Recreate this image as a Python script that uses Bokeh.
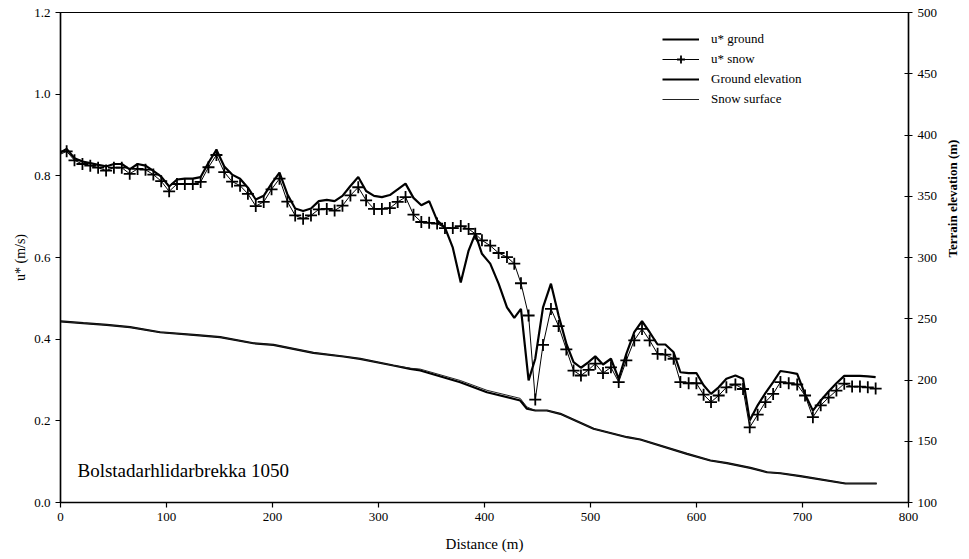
import math
from bokeh.plotting import figure
from bokeh.models import (Range1d, LinearAxis, FixedTicker, NumeralTickFormatter,
                          Legend, LegendItem, ColumnDataSource, CDSView, IndexFilter, Label)
from bokeh.embed import file_html
from bokeh.resources import INLINE

# Distance along the profile (m) of the friction-velocity samples
distance = [0.0, 5.8, 13.2, 20.7, 28.1, 35.5, 43.0, 50.4, 57.8, 65.3, 72.7, 80.2, 87.6, 95.0,
            102.5, 109.9, 117.3, 124.8, 132.2, 139.6, 147.1, 154.5, 161.9, 169.4, 176.8,
            184.2, 191.7, 199.1, 206.6, 214.0, 221.4, 228.9, 236.3, 243.7, 251.2, 258.6,
            266.0, 273.5, 280.9, 288.3, 295.8, 303.2, 310.7, 318.1, 325.5, 333.0, 340.4,
            347.8, 355.3, 362.7, 370.1, 377.6, 385.0, 391.3, 397.6, 405.4, 413.3, 421.2,
            428.1, 434.4, 441.6, 447.9, 455.2, 462.7, 469.9, 477.2, 484.0, 491.0, 498.2,
            504.5, 511.8, 519.3, 526.6, 533.8, 541.3, 548.6, 555.8, 563.3, 570.6, 578.4,
            584.8, 592.6, 599.9, 606.7, 613.7, 620.9, 628.2, 636.7, 643.9, 650.2, 657.7,
            665.0, 672.3, 679.2, 687.0, 695.0, 702.4, 709.8, 717.2, 724.6, 732.0, 739.4,
            746.8, 754.2, 761.6, 769.0]

# Friction velocity u* (m/s) over bare ground
u_ground = [0.857, 0.866, 0.843, 0.835, 0.831, 0.827, 0.823, 0.829, 0.829, 0.816, 0.829, 0.825,
            0.812, 0.798, 0.774, 0.791, 0.793, 0.793, 0.797, 0.832, 0.864, 0.823, 0.803, 0.793,
            0.771, 0.742, 0.751, 0.781, 0.808, 0.755, 0.720, 0.714, 0.720, 0.738, 0.741, 0.738,
            0.751, 0.775, 0.797, 0.763, 0.751, 0.748, 0.753, 0.767, 0.781, 0.746, 0.728, 0.738,
            0.691, 0.673, 0.624, 0.539, 0.617, 0.658, 0.609, 0.585, 0.536, 0.478, 0.452, 0.474,
            0.299, 0.352, 0.478, 0.536, 0.458, 0.389, 0.344, 0.330, 0.344, 0.358, 0.338, 0.352,
            0.303, 0.364, 0.417, 0.444, 0.417, 0.387, 0.387, 0.368, 0.319, 0.317, 0.317, 0.287,
            0.266, 0.282, 0.303, 0.311, 0.303, 0.201, 0.238, 0.268, 0.295, 0.322, 0.319, 0.315,
            0.265, 0.225, 0.250, 0.272, 0.292, 0.310, 0.310, 0.310, 0.309, 0.307]

# Friction velocity u* (m/s) over the snow surface
u_snow = [0.853, 0.860, 0.838, 0.829, 0.825, 0.820, 0.813, 0.820, 0.820, 0.805, 0.817, 0.815,
          0.803, 0.787, 0.762, 0.780, 0.780, 0.780, 0.785, 0.821, 0.851, 0.809, 0.786, 0.776,
          0.756, 0.726, 0.736, 0.767, 0.793, 0.737, 0.703, 0.695, 0.703, 0.718, 0.719, 0.715,
          0.727, 0.752, 0.772, 0.740, 0.719, 0.719, 0.721, 0.736, 0.748, 0.705, 0.687, 0.685,
          0.683, 0.672, 0.672, 0.677, 0.670, 0.658, 0.642, 0.629, 0.611, 0.601, 0.585, 0.537,
          0.458, 0.252, 0.386, 0.474, 0.432, 0.375, 0.323, 0.311, 0.325, 0.340, 0.317, 0.331,
          0.295, 0.348, 0.397, 0.425, 0.397, 0.364, 0.362, 0.352, 0.295, 0.292, 0.292, 0.264,
          0.246, 0.262, 0.282, 0.289, 0.278, 0.184, 0.215, 0.246, 0.266, 0.295, 0.292, 0.289,
          0.262, 0.209, 0.238, 0.257, 0.274, 0.291, 0.284, 0.284, 0.282, 0.279]

# Terrain profile (m a.s.l.)
ground_x = [0.0, 21.5, 43.6, 65.6, 93.9, 128.5, 150.6, 182.0, 200.9, 238.6, 267.0, 282.7,
            314.1, 329.9, 339.4, 377.1, 402.3, 433.7, 440.0, 447.9, 458.9, 471.5, 502.9,
            534.5, 547.0, 591.1, 613.1, 628.8, 650.8, 666.6, 679.2, 698.0, 740.5, 770.0]
ground_elev = [247.8, 246.4, 245.0, 243.1, 239.0, 236.6, 235.0, 230.0, 228.7, 222.2, 219.2,
               217.3, 211.8, 209.1, 207.8, 198.2, 190.0, 183.3, 176.5, 175.1, 175.1, 172.4,
               160.2, 153.3, 151.4, 139.7, 134.3, 132.1, 128.3, 124.7, 123.9, 121.5, 115.5,
               115.5]

snow_x = [0.0, 21.5, 43.6, 65.6, 93.9, 128.5, 150.6, 182.0, 200.9, 238.6, 267.0, 282.7,
          314.1, 329.9, 339.4, 377.1, 402.3, 433.7, 440.0, 447.9, 458.9, 471.5, 502.9,
          534.5, 547.0, 591.1, 613.1, 628.8, 650.8, 666.6, 679.2, 698.0, 740.5, 770.0]
snow_elev = [247.8, 246.4, 245.0, 243.1, 239.0, 236.6, 235.0, 230.0, 228.7, 222.2, 219.2,
             217.3, 211.8, 209.6, 208.9, 199.6, 191.6, 185.0, 178.0, 175.1, 175.1, 172.4,
             160.2, 153.3, 151.4, 139.7, 134.3, 132.1, 128.3, 124.7, 123.9, 121.5, 115.5,
             115.5]

x_ticks = [0, 100, 200, 300, 400, 500, 600, 700, 800]
u_ticks = [0.0, 0.2, 0.4, 0.6, 0.8, 1.0, 1.2]
elev_ticks = [100, 150, 200, 250, 300, 350, 400, 450, 500]

SERIF = "'Liberation Serif', serif"

p = figure(frame_width=848, frame_height=490,
           x_range=Range1d(0, 800), y_range=Range1d(0, 1.2),
           output_backend="svg", toolbar_location=None,
           min_border_left=60, min_border_right=61, min_border_top=12, min_border_bottom=57)
p.extra_y_ranges = {"elev": Range1d(100, 500)}
p.xgrid.visible = False
p.ygrid.visible = False
p.outline_line_color = "black"
p.outline_line_width = 1.2
p.background_fill_color = "white"
p.border_fill_color = "white"

src = ColumnDataSource(dict(x=distance, ug=u_ground, us=u_snow))

r_ground = p.line("x", "ug", source=src, line_color="black", line_width=2.2)
r_snow = p.line("x", "us", source=src, line_color="black", line_width=1.0)
marker_view = CDSView(filter=IndexFilter(list(range(1, len(distance)))))
r_marks = p.scatter("x", "us", source=src, view=marker_view, marker="cross",
                    size=12, line_color="black", line_width=1.8)

r_gel = p.line(ground_x, ground_elev, y_range_name="elev", line_color="black", line_width=2.2)
r_sel = p.line(snow_x, snow_elev, y_range_name="elev", line_color="#222222", line_width=1.0)

# Axes
for ax in p.xaxis:
    ax.ticker = FixedTicker(ticks=x_ticks)
    ax.axis_label = "Distance (m)"
for ax in p.yaxis:
    ax.ticker = FixedTicker(ticks=u_ticks)
    ax.formatter = NumeralTickFormatter(format="0.0")
    ax.axis_label = "u* (m/s)"

right = LinearAxis(y_range_name="elev", ticker=FixedTicker(ticks=elev_ticks))
p.add_layout(right, "right")

for ax in list(p.xaxis) + list(p.yaxis) + [right]:
    ax.axis_line_color = "black"
    ax.axis_line_width = 1.5
    ax.major_tick_line_color = "black"
    ax.major_tick_line_width = 1.2
    ax.major_tick_out = 5
    ax.major_tick_in = 0
    ax.minor_tick_line_color = None
    ax.major_label_text_font = SERIF
    ax.major_label_text_font_size = "13px"
    ax.major_label_text_color = "black"
    ax.axis_label_text_font = SERIF
    ax.axis_label_text_color = "black"
    ax.axis_label_text_font_style = "normal"

for ax in p.xaxis:
    ax.axis_label_text_font_size = "15px"
    ax.axis_label_standoff = 12
for ax in p.yaxis:
    ax.axis_label_text_font_size = "14px"
    ax.axis_label_standoff = 3
right.major_tick_in = 4
right.major_tick_out = 4

# Title of the elevation axis: a bare axis whose single tick label reads bottom to top
title_axis = LinearAxis(y_range_name="elev", ticker=FixedTicker(ticks=[300]),
                        major_label_overrides={300: "Terrain elevation (m)"},
                        major_label_orientation=math.pi / 2,
                        axis_line_color=None, major_tick_line_color=None,
                        minor_tick_line_color=None, major_tick_in=0, major_tick_out=0,
                        major_label_standoff=12, major_label_text_font=SERIF,
                        major_label_text_font_size="13px",
                        major_label_text_font_style="bold",
                        major_label_text_color="black")
p.add_layout(title_axis, "right")

p.add_layout(Label(x=16, y=0.078, text="Bolstadarhlidarbrekka 1050",
                   text_font=SERIF, text_font_size="19px", text_baseline="middle",
                   text_color="black"))

legend = Legend(items=[LegendItem(label="u* ground", renderers=[r_ground]),
                       LegendItem(label="u* snow", renderers=[r_snow, r_marks]),
                       LegendItem(label="Ground elevation", renderers=[r_gel]),
                       LegendItem(label="Snow surface", renderers=[r_sel])],
                location=(602, 393), glyph_width=37, glyph_height=20, spacing=0,
                padding=0, margin=0, label_standoff=12, border_line_color=None,
                background_fill_alpha=0, label_text_font=SERIF,
                label_text_font_size="13px", label_text_color="black")
p.add_layout(legend)

open("out.html", "w").write(file_html(p, INLINE))
